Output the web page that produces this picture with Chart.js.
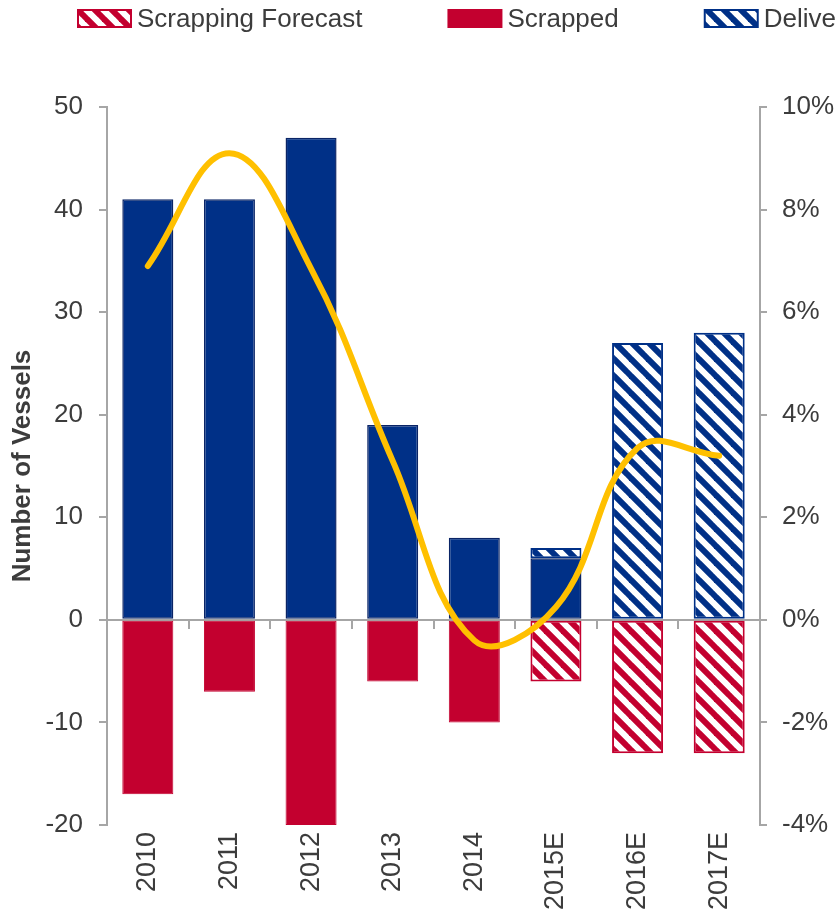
<!DOCTYPE html>
<html>
<head>
<meta charset="utf-8">
<script src="https://cdn.jsdelivr.net/npm/chart.js@4.4.1/dist/chart.umd.min.js"></script>
<style>
  html, body { margin: 0; padding: 0; background: #fff; overflow: hidden; }
  #wrap { width: 836px; height: 920px; }
</style>
</head>
<body>
<div id="wrap"><canvas id="fleet" width="836" height="920"></canvas></div>
<script>
// categories and series
const years = ['2010', '2011', '2012', '2013', '2014', '2015E', '2016E', '2017E'];
const delivered = [41, 41, 47, 19, 8, 6, null, null];
const deliveredForecast = [null, null, null, null, null, 1, 27, 28];
const scrapped = [-17, -7, -20, -6, -10, null, null, null];
const scrappingForecast = [null, null, null, null, null, -6, -13, -13];
const fleetGrowth = [6.9, 9.1, 6.85, 3.1, -0.4, 0.25, 3.35, 3.2];

const leftTicks = [-20, -10, 0, 10, 20, 30, 40, 50];
const rightTicks = [-4, -2, 0, 2, 4, 6, 8, 10];

const BLUE = '#003087';
const RED = '#C3002F';
const GOLD = '#FFC000';
const GREY = '#A6A6A6';
const TEXT = '#3c3c3c';
const FONT = '"Liberation Sans", Arial, sans-serif';

document.addEventListener('DOMContentLoaded', function () {
  if (typeof Chart === 'undefined') {
    console.error('Chart.js is not loaded.');
    return;
  }
  const canvas = document.getElementById('fleet');
  const ctx = canvas.getContext('2d');

  // diagonal hatching (top-left to bottom-right) on white
  function hatch(color) {
    const size = 17;
    const tile = document.createElement('canvas');
    tile.width = size;
    tile.height = size;
    const t = tile.getContext('2d');
    t.fillStyle = '#fff';
    t.fillRect(0, 0, size, size);
    t.strokeStyle = color;
    t.lineWidth = 6;
    for (let k = -1; k <= 1; k++) {
      t.beginPath();
      t.moveTo(k * size - 2, -2);
      t.lineTo(k * size + size + 2, size + 2);
      t.stroke();
    }
    return ctx.createPattern(tile, 'repeat');
  }
  const blueHatch = hatch(BLUE);
  const redHatch = hatch(RED);

  const datasets = [
    { label: 'Delivered', data: delivered, backgroundColor: BLUE, borderColor: '#0a2466', borderWidth: 1.5 },
    { label: 'Delivered Forecast', data: deliveredForecast, backgroundColor: blueHatch, borderColor: BLUE, borderWidth: 2 },
    { label: 'Scrapped', data: scrapped, backgroundColor: RED, borderColor: RED, borderWidth: 1 },
    { label: 'Scrapping Forecast', data: scrappingForecast, backgroundColor: redHatch, borderColor: RED, borderWidth: 2 },
    {
      type: 'line', label: 'Net Fleet Growth (RHS)', data: fleetGrowth, yAxisID: 'y1',
      borderColor: GOLD, borderWidth: 6, tension: 0.4, pointRadius: 0,
      borderCapStyle: 'round', order: 0
    }
  ];
  datasets.slice(0, 4).forEach(d => {
    d.type = 'bar';
    d.order = 1;
    d.borderSkipped = false;
    d.barPercentage = 0.625;
    d.categoryPercentage = 1;
  });

  // legend is wider than the canvas in the reference, so it runs off the right edge
  const legendOrder = [3, 2, 1, 0, 4];
  const cutLegend = {
    id: 'cutLegend',
    afterDraw(chart) {
      const c = chart.ctx;
      c.save();
      c.font = '26px ' + FONT;
      c.textBaseline = 'middle';
      let x = 78;
      legendOrder.forEach(i => {
        const ds = chart.data.datasets[i];
        if (ds.type === 'line') {
          c.strokeStyle = ds.borderColor;
          c.lineWidth = 6;
          c.beginPath();
          c.moveTo(x, 19);
          c.lineTo(x + 53, 19);
          c.stroke();
        } else {
          c.fillStyle = ds.backgroundColor;
          c.fillRect(x, 10, 53, 17);
          c.strokeStyle = ds.borderColor;
          c.lineWidth = 2;
          c.strokeRect(x, 10, 53, 17);
        }
        c.fillStyle = TEXT;
        c.fillText(ds.label, x + 59, 20);
        x += 59 + c.measureText(ds.label).width + 86;
      });
      c.restore();
    }
  };

  new Chart(ctx, {
    data: { labels: years, datasets: datasets },
    options: {
      responsive: false,
      devicePixelRatio: 1,
      animation: false,
      layout: { padding: { top: 107, right: 0, bottom: 0, left: 0 } },
      plugins: {
        legend: { display: false },
        tooltip: { enabled: false }
      },
      scales: {
        x: {
          stacked: true,
          offset: true,
          grid: { display: false, drawTicks: false },
          border: { display: false },
          ticks: {
            autoSkip: false, minRotation: 90, maxRotation: 90, padding: 7,
            color: TEXT, font: { family: FONT, size: 27 }
          },
          afterFit(scale) { scale.height = 95; }
        },
        x0: {
          type: 'category',
          labels: years,
          position: { y: 0 },
          offset: true,
          grid: { offset: true, drawOnChartArea: false, drawTicks: true, tickLength: 8, color: GREY, lineWidth: 2 },
          border: { display: true, color: GREY, width: 2 },
          ticks: { display: false }
        },
        y: {
          stacked: true,
          position: 'left',
          min: -20,
          max: 50,
          afterBuildTicks(scale) { scale.ticks = leftTicks.map(v => ({ value: v })); },
          grid: { drawOnChartArea: false, drawTicks: true, tickLength: 8, color: GREY, lineWidth: 2 },
          border: { display: true, color: GREY, width: 2 },
          ticks: { padding: 16, color: TEXT, font: { family: FONT, size: 26 } },
          title: {
            display: true, text: 'Number of Vessels', color: TEXT,
            font: { family: FONT, size: 26, weight: 'bold' }, padding: { top: 7, bottom: 0 }
          },
          afterFit(scale) { scale.width = 107; }
        },
        y1: {
          position: 'right',
          min: -4,
          max: 10,
          afterBuildTicks(scale) { scale.ticks = rightTicks.map(v => ({ value: v })); },
          grid: { drawOnChartArea: false, drawTicks: true, tickLength: 7, color: GREY, lineWidth: 2 },
          border: { display: true, color: GREY, width: 2 },
          ticks: {
            padding: 15, crossAlign: 'near', color: TEXT, font: { family: FONT, size: 26 },
            callback: v => v + '%'
          },
          afterFit(scale) { scale.width = 76; }
        }
      }
    },
    plugins: [cutLegend]
  });
});
</script>
</body>
</html>
